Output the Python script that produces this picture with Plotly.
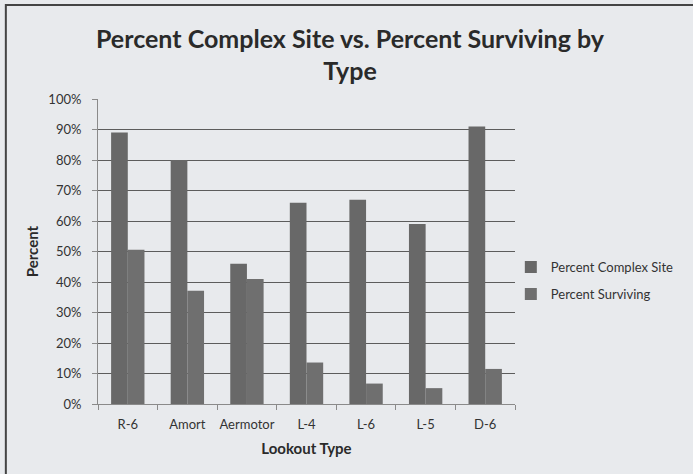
import plotly.graph_objects as go

categories = ["R-6", "Amort", "Aermotor", "L-4", "L-6", "L-5", "D-6"]
pct_complex_site = [0.89, 0.80, 0.46, 0.66, 0.67, 0.59, 0.91]
pct_surviving = [0.506, 0.371, 0.41, 0.136, 0.067, 0.052, 0.115]
y_ticks = [0, 0.1, 0.2, 0.3, 0.4, 0.5, 0.6, 0.7, 0.8, 0.9, 1.0]

FONT = "Lato"
BG = "#e8eaed"

fig = go.Figure()
fig.add_trace(go.Bar(
    x=categories, y=pct_complex_site, name="Percent Complex Site",
    marker=dict(color="#686868", line=dict(width=0)), legendgroup="a",
))
fig.add_trace(go.Bar(
    x=categories, y=pct_surviving, name="Percent Surviving",
    marker=dict(color="#6f6f6f", line=dict(width=0)), legendgroup="b",
))

fig.update_layout(
    width=693, height=474,
    paper_bgcolor=BG, plot_bgcolor=BG,
    margin=dict(l=98, r=178, t=99, b=70, autoexpand=False),
    barmode="group", bargap=0.44, bargroupgap=0,
    font=dict(family=FONT, color="#333333", size=12),
    title=dict(
        text="<b>Percent Complex Site vs. Percent Surviving by<br>Type</b>",
        x=0.505, xref="container", xanchor="center",
        y=0.899, yref="container", yanchor="middle",
        font=dict(family=FONT, size=25, color="#2a2a2a"),
    ),
    legend=dict(
        x=0.99, xanchor="left", y=0.498, yanchor="top",
        bgcolor="rgba(0,0,0,0)", font=dict(size=13, color="#333333"),
        traceorder="grouped", tracegroupgap=7, itemwidth=30,
    ),
    xaxis=dict(
        showline=True, linecolor="#8a8a8a", linewidth=1,
        ticks="outside", tickson="boundaries", ticklen=5, tickcolor="#8a8a8a",
        ticklabelstandoff=8,
        tickfont=dict(size=13, color="#333333"), tickangle=0,
        title=dict(text="<b>Lookout Type</b>", font=dict(size=15, color="#2a2a2a"), standoff=12),
        showgrid=False,
    ),
    yaxis=dict(
        range=[0, 1.0], tickvals=y_ticks, tickformat=".0%",
        showgrid=True, gridcolor="#5c5c5c", gridwidth=1.2,
        showline=True, linecolor="#8a8a8a", linewidth=1,
        ticks="outside", ticklen=5, tickcolor="#8a8a8a", ticklabelstandoff=8,
        tickfont=dict(size=13, color="#333333"),
        title=dict(text="<b>Percent</b>", font=dict(size=15, color="#2a2a2a"), standoff=6),
        zeroline=False,
    ),
    shapes=[dict(
        type="rect", xref="paper", yref="paper",
        x0=-0.221, x1=1.6, y0=-0.5, y1=1.308,
        line=dict(color="#444444", width=2), layer="below",
    )],
)

fig.write_html(
    "out.html",
    config={"displayModeBar": False},
    post_script="document.body.style.margin='0';document.body.style.overflow='hidden';",
)
